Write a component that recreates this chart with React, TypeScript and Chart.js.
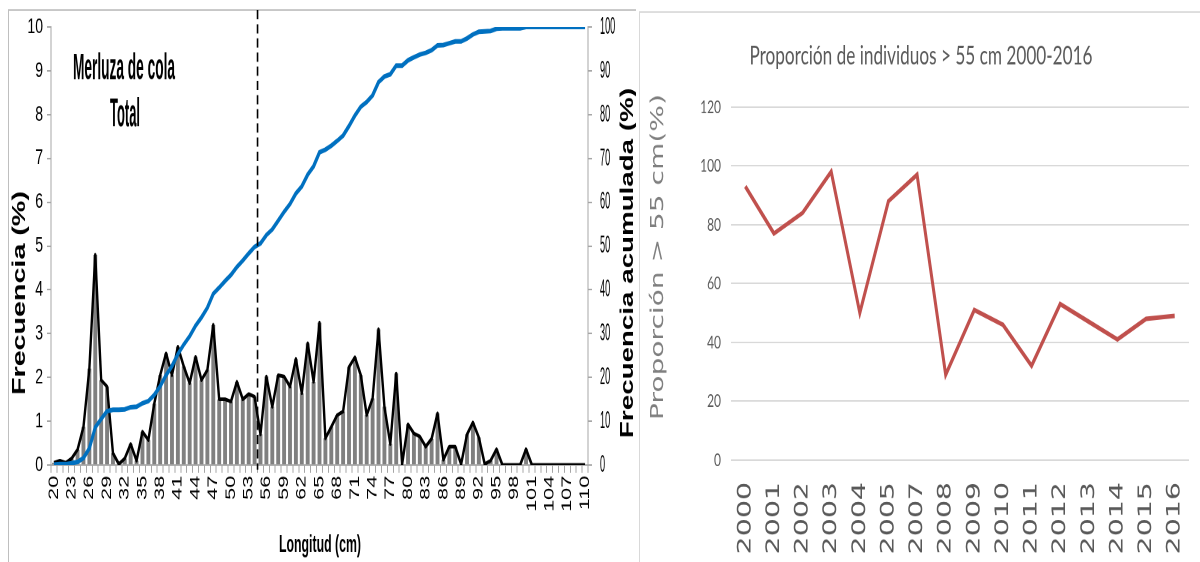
import React, { useEffect, useRef } from 'react';
import { Chart, registerables } from 'chart.js';

Chart.register(...registerables);

// ---- Length distribution of "Merluza de cola" ----
const lengthsCm = [
  20, 21, 22, 23, 24, 25, 26, 27, 28, 29,
  30, 31, 32, 33, 34, 35, 36, 37, 38, 39,
  40, 41, 42, 43, 44, 45, 46, 47, 48, 49,
  50, 51, 52, 53, 54, 55, 56, 57, 58, 59,
  60, 61, 62, 63, 64, 65, 66, 67, 68, 69,
  70, 71, 72, 73, 74, 75, 76, 77, 78, 79,
  80, 81, 82, 83, 84, 85, 86, 87, 88, 89,
  90, 91, 92, 93, 94, 95, 96, 97, 98, 99,
  100, 101, 102, 103, 104, 105, 106, 107, 108, 109, 110,
];

const frequencyPct = [
  0.05, 0.1, 0.05, 0.15, 0.35, 0.87, 2.2, 4.8, 1.94, 1.79,
  0.27, 0.02, 0.15, 0.48, 0.1, 0.76, 0.57, 1.4, 2.05, 2.55,
  2.05, 2.7, 2.25, 1.87, 2.47, 1.94, 2.17, 3.2, 1.5, 1.5,
  1.45, 1.9, 1.5, 1.62, 1.56, 0.7, 2.02, 1.33, 2.05, 2.02,
  1.79, 2.42, 1.64, 2.78, 1.9, 3.25, 0.61, 0.87, 1.14, 1.22,
  2.24, 2.46, 2.05, 1.14, 1.52, 3.1, 1.33, 0.48, 2.09, 0.02,
  0.93, 0.72, 0.65, 0.42, 0.6, 1.18, 0.12, 0.42, 0.42, 0.02,
  0.7, 0.97, 0.63, 0.02, 0.1, 0.36, 0, 0, 0, 0,
  0.36, 0, 0, 0, 0, 0, 0, 0, 0, 0, 0,
];

const cumulativePct = [
  0.1, 0.2, 0.2, 0.4, 0.7, 1.6, 3.8, 8.6, 10.5, 12.3,
  12.6, 12.6, 12.7, 13.2, 13.3, 14.1, 14.6, 16.0, 18.0, 20.5,
  22.6, 25.3, 27.5, 29.4, 31.8, 33.7, 35.9, 39.1, 40.5, 42.0,
  43.4, 45.2, 46.7, 48.3, 49.8, 50.6, 52.5, 53.8, 55.8, 57.8,
  59.6, 62.0, 63.6, 66.3, 68.2, 71.4, 72.0, 72.9, 74.0, 75.2,
  77.4, 79.8, 81.8, 82.9, 84.4, 87.4, 88.7, 89.2, 91.2, 91.2,
  92.4, 93.1, 93.7, 94.1, 94.7, 95.8, 95.9, 96.3, 96.7, 96.7,
  97.4, 98.3, 98.9, 99.0, 99.1, 99.6, 99.7, 99.7, 99.7, 99.7,
  100, 100, 100, 100, 100, 100, 100, 100, 100, 100, 100,
];

const lengthTickLabels = [
  20, 23, 26, 29, 32, 35, 38, 41, 44, 47, 50, 53, 56, 59, 62, 65,
  68, 71, 74, 77, 80, 83, 86, 89, 92, 95, 98, 101, 104, 107, 110,
];

// size limit marked with the dashed line
const cutoffCm = 54.5;

// ---- Share of fish above 55 cm per year ----
const years = [
  '2000', '2001', '2002', '2003', '2004', '2005', '2007', '2008',
  '2009', '2010', '2011', '2012', '2013', '2014', '2015', '2016',
];
const proportionOver55 = [93, 77, 84, 98, 50, 88, 97, 29, 51, 46, 32, 53, 47, 41, 48, 49];

// ---- Canvas geometry (both panels are drawn flat, then stretched vertically) ----
const PAGE_H = 562;
const LEFT_W = 636;
const LEFT_H = 365;
const LEFT_SY = PAGE_H / LEFT_H;
const RIGHT_X = 636;
const RIGHT_W = 564;
const RIGHT_H = 375;
const RIGHT_SY = PAGE_H / RIGHT_H;

const SANS = '"Liberation Sans", Arial, sans-serif';
const AXIS_GREY = '#a6a6a6';

type Label = {
  text: string;
  x: number;
  y: number;
  font: string;
  color: string;
  rotate?: boolean;
  width?: number;
  sx?: number;
  align?: CanvasTextAlign;
  baseline?: CanvasTextBaseline;
};

function paintLabel(ctx: CanvasRenderingContext2D, l: Label) {
  ctx.save();
  ctx.font = l.font;
  ctx.fillStyle = l.color;
  ctx.textAlign = l.align ?? 'center';
  ctx.textBaseline = l.baseline ?? 'middle';
  ctx.translate(l.x, l.y);
  if (l.rotate) ctx.rotate(-Math.PI / 2);
  let k = l.sx ?? 1;
  if (l.width) k = l.width / ctx.measureText(l.text).width;
  ctx.scale(k, 1);
  ctx.fillText(l.text, 0, 0);
  ctx.restore();
}

const lengthPanelLabels: Label[] = [
  { text: 'Merluza de cola', x: 124, y: 51.5, font: `bold 24px ${SANS}`, color: '#000', width: 102, baseline: 'alphabetic' },
  { text: 'Total', x: 125, y: 81.8, font: `bold 26px ${SANS}`, color: '#000', width: 30, baseline: 'alphabetic' },
  { text: 'Longitud (cm)', x: 320, y: 358.3, font: `bold 16px ${SANS}`, color: '#000', width: 82, baseline: 'alphabetic' },
  { text: 'Frecuencia (%)', x: 20, y: 190.3, font: `bold 18px ${SANS}`, color: '#000', rotate: true, width: 132.5 },
  { text: 'Frecuencia acumulada (%)', x: 628, y: 170.8, font: `bold 18px ${SANS}`, color: '#000', rotate: true, width: 227.3 },
];

const proportionPanelLabels: Label[] = [
  { text: 'Proporción de individuos > 55 cm 2000-2016', x: 285, y: 43.2, font: '17px Lato, sans-serif', color: '#595959', width: 343, baseline: 'alphabetic' },
  { text: 'Proporción > 55 cm(%)', x: 22.5, y: 171.5, font: '18px "DejaVu Sans", sans-serif', color: '#7f7f7f', rotate: true, width: 217.5 },
];

const lengthDecor = {
  id: 'lengthDecor',
  beforeDraw(chart: any) {
    const ctx = chart.ctx as CanvasRenderingContext2D;
    ctx.save();
    ctx.strokeStyle = '#bfbfbf';
    ctx.lineWidth = 1;
    ctx.beginPath();
    ctx.moveTo(8.5, LEFT_H);
    ctx.lineTo(8.5, 6.5);
    ctx.lineTo(LEFT_W, 6.5);
    ctx.stroke();
    ctx.restore();
  },
  afterDatasetsDraw(chart: any) {
    const ctx = chart.ctx as CanvasRenderingContext2D;
    const xs = chart.scales.x;
    const x = xs.getPixelForValue(cutoffCm - lengthsCm[0]);
    ctx.save();
    ctx.strokeStyle = '#000';
    ctx.lineWidth = 1.6;
    ctx.setLineDash([6, 3.2]);
    ctx.beginPath();
    ctx.moveTo(x, 6.5);
    ctx.lineTo(x, chart.chartArea.bottom + 3);
    ctx.stroke();
    ctx.restore();
  },
  afterDraw(chart: any) {
    const ctx = chart.ctx as CanvasRenderingContext2D;
    const cum = chart.scales.yCum;
    for (const t of cum.ticks) {
      paintLabel(ctx, {
        text: String(t.value),
        x: cum.left + 12,
        y: cum.getPixelForValue(t.value),
        font: `16px ${SANS}`,
        color: '#000',
        sx: 0.57,
        align: 'left',
      });
    }
    for (const l of lengthPanelLabels) paintLabel(ctx, l);
  },
};

const proportionDecor = {
  id: 'proportionDecor',
  beforeDraw(chart: any) {
    const ctx = chart.ctx as CanvasRenderingContext2D;
    ctx.save();
    ctx.strokeStyle = '#d9d9d9';
    ctx.lineWidth = 1;
    ctx.beginPath();
    ctx.moveTo(3.5, RIGHT_H);
    ctx.lineTo(3.5, 8);
    ctx.lineTo(RIGHT_W, 8);
    ctx.stroke();
    ctx.restore();
  },
  afterDraw(chart: any) {
    const ctx = chart.ctx as CanvasRenderingContext2D;
    for (const l of proportionPanelLabels) paintLabel(ctx, l);
  },
};

function fixHeight(h: number) {
  return (s: any) => {
    s.height = h;
    s.paddingLeft = 0;
    s.paddingRight = 0;
  };
}

function buildLengthChart(): any {
  return {
    type: 'bar',
    data: {
      labels: lengthsCm.map(String),
      datasets: [
        {
          type: 'line',
          label: 'Frecuencia acumulada (%)',
          data: cumulativePct,
          yAxisID: 'yCum',
          borderColor: '#0070c0',
          borderWidth: 3,
          pointRadius: 0,
          tension: 0,
          order: 1,
        },
        {
          type: 'line',
          label: 'Frecuencia (%)',
          data: frequencyPct,
          yAxisID: 'yFreq',
          borderColor: '#000',
          borderWidth: 2.4,
          borderJoinStyle: 'round',
          pointRadius: 0,
          tension: 0,
          order: 2,
        },
        {
          type: 'bar',
          label: 'Frecuencia',
          data: frequencyPct,
          yAxisID: 'yFreq',
          backgroundColor: '#808080',
          barPercentage: 0.66,
          categoryPercentage: 1,
          order: 3,
        },
      ],
    },
    options: {
      responsive: false,
      animation: false,
      devicePixelRatio: 2,
      layout: { padding: { top: 27 / LEFT_SY, left: 0, right: 0, bottom: 0 } },
      plugins: { legend: { display: false }, tooltip: { enabled: false } },
      scales: {
        x: {
          type: 'category',
          offset: true,
          grid: { offset: true, drawOnChartArea: false, drawTicks: true, tickLength: 5, color: AXIS_GREY },
          border: { color: AXIS_GREY },
          ticks: {
            autoSkip: false,
            minRotation: 90,
            maxRotation: 90,
            padding: 2,
            color: '#000',
            font: { family: SANS, size: 14 },
            callback: (_v: any, i: number) =>
              lengthTickLabels.includes(lengthsCm[i]) ? String(lengthsCm[i]) : '',
          },
          afterFit: fixHeight(LEFT_H - 465 / LEFT_SY),
        },
        yFreq: {
          position: 'left',
          min: 0,
          max: 10,
          ticks: { stepSize: 1, padding: 4, color: '#000', font: { family: SANS, size: 14 } },
          grid: { drawOnChartArea: false, tickLength: 4, color: AXIS_GREY },
          border: { color: AXIS_GREY },
          afterFit: (s: any) => {
            s.width = 51;
          },
        },
        yCum: {
          position: 'right',
          min: 0,
          max: 100,
          ticks: { stepSize: 10, display: false },
          grid: { drawOnChartArea: false, tickLength: 4, color: AXIS_GREY },
          border: { color: AXIS_GREY },
          afterFit: (s: any) => {
            s.width = LEFT_W - 588;
          },
        },
      },
    },
    plugins: [lengthDecor],
  };
}

function buildProportionChart(): any {
  return {
    type: 'line',
    data: {
      labels: years,
      datasets: [
        {
          label: 'Proporción > 55 cm (%)',
          data: proportionOver55,
          borderColor: '#c0504d',
          borderWidth: 3,
          pointRadius: 0,
          tension: 0,
        },
      ],
    },
    options: {
      responsive: false,
      animation: false,
      devicePixelRatio: 2,
      layout: { padding: { top: 107 / RIGHT_SY, left: 0, right: RIGHT_W - (1189 - RIGHT_X), bottom: 0 } },
      plugins: { legend: { display: false }, tooltip: { enabled: false } },
      scales: {
        x: {
          offset: true,
          grid: { display: false, drawTicks: false },
          border: { display: false },
          ticks: {
            autoSkip: false,
            minRotation: 90,
            maxRotation: 90,
            padding: 482 / RIGHT_SY - 460 / RIGHT_SY,
            color: '#595959',
            font: { family: '"DejaVu Sans", sans-serif', size: 19 },
          },
          afterFit: fixHeight(RIGHT_H - 460 / RIGHT_SY),
        },
        y: {
          min: 0,
          max: 120,
          ticks: { stepSize: 20, padding: 10, color: '#595959', font: { family: 'Lato, sans-serif', size: 12 } },
          grid: { color: '#d9d9d9', drawTicks: false },
          border: { display: false },
          afterFit: (s: any) => {
            s.width = 731 - RIGHT_X;
          },
        },
      },
    },
    plugins: [proportionDecor],
  };
}

export default function App() {
  const lengthRef = useRef<HTMLCanvasElement>(null);
  const proportionRef = useRef<HTMLCanvasElement>(null);

  useEffect(() => {
    const lengthChart = new Chart(lengthRef.current as HTMLCanvasElement, buildLengthChart());
    const proportionChart = new Chart(proportionRef.current as HTMLCanvasElement, buildProportionChart());
    return () => {
      lengthChart.destroy();
      proportionChart.destroy();
    };
  }, []);

  return (
    <div style={{ position: 'absolute', left: 0, top: 0, width: 1200, height: PAGE_H, background: '#fff', overflow: 'hidden' }}>
      <div
        style={{
          position: 'absolute',
          left: 0,
          top: 0,
          width: LEFT_W,
          height: LEFT_H,
          transform: `scaleY(${LEFT_SY})`,
          transformOrigin: '0 0',
        }}
      >
        <canvas ref={lengthRef} width={LEFT_W} height={LEFT_H} style={{ display: 'block' }} />
      </div>
      <div
        style={{
          position: 'absolute',
          left: RIGHT_X,
          top: 0,
          width: RIGHT_W,
          height: RIGHT_H,
          transform: `scaleY(${RIGHT_SY})`,
          transformOrigin: '0 0',
        }}
      >
        <canvas ref={proportionRef} width={RIGHT_W} height={RIGHT_H} style={{ display: 'block' }} />
      </div>
    </div>
  );
}
